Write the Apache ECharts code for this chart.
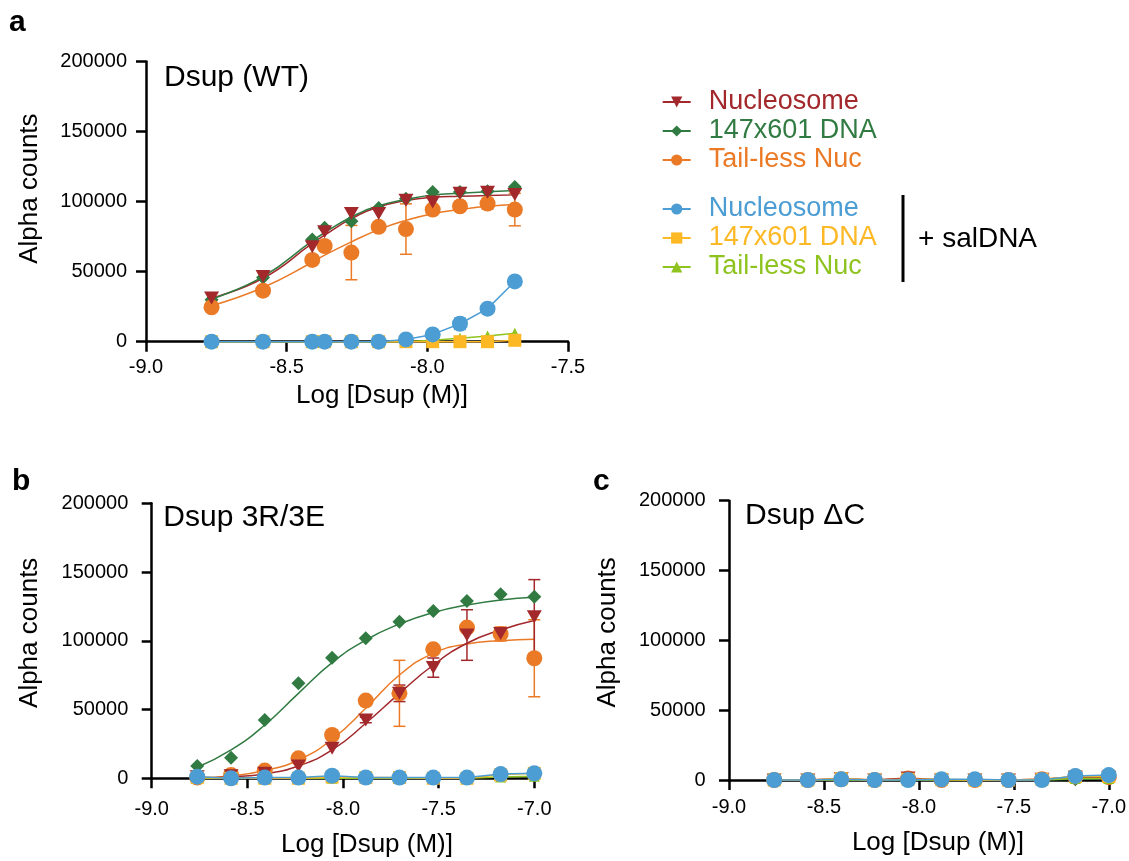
<!DOCTYPE html>
<html>
<head>
<meta charset="utf-8">
<script src="https://cdn.jsdelivr.net/npm/echarts@6/dist/echarts.min.js"></script>
<style>
html,body{margin:0;padding:0;background:#fff;}
#chart{width:1129px;height:861px;}
</style>
</head>
<body>
<div id="chart"></div>
<script>
// ---------- DATA ----------
// x positions: Log [Dsup (M)]
const xA = [-8.767, -8.584, -8.409, -8.365, -8.270, -8.173, -8.076, -7.981, -7.884, -7.786, -7.689];
const xB = [-8.762, -8.585, -8.409, -8.233, -8.057, -7.881, -7.705, -7.528, -7.352, -7.176, -7.000];
const xC = [-8.762, -8.585, -8.409, -8.233, -8.057, -7.881, -7.705, -7.528, -7.352, -7.176, -7.000];

// Panel a: Dsup (WT)
const nucA   = [31200, 46600, 67800, 78500, 91500, 91500, 101000, 99800, 106000, 106600, 105000];
const dnaA   = [30000, 45800, 73000, 81300, 86000, 95500, 102100, 106800, 106800, 107300, 110400];
const tailA  = [24600, 36400, 58400, 68300, 63600, 82000, 80400, 94300, 96700, 98600, 94300];
const tailAErr = [0, 0, 0, 0, 19400, 0, 18000, 0, 0, 3800, 11600];
const nucFitA  = [31200, 45300, 70100, 76000, 87800, 96100, 100800, 103100, 103800, 104300, 104800];
const dnaFitA  = [30500, 46500, 72000, 77800, 89000, 97000, 101500, 104800, 106000, 107000, 107900];
const tailFitA = [25700, 38700, 56700, 61800, 71300, 80000, 86600, 91400, 94300, 96700, 98000];
const bluA   = [0, 0, 0, 0, 0, 0, 1600, 5200, 12800, 23600, 43000];
const bluAErr = [0, 0, 0, 0, 0, 0, 0, 0, 4000, 0, 0];
const yelA   = [0, 0, 0, 0, 0, 0, 0, 0, 0, 0, 1000];
const limA   = [0, 0, 0, 0, 0, 0, 0, 1000, 2500, 4000, 6000];

// Panel b: Dsup 3R/3E
const dnaB   = [9000, 15000, 42400, 69100, 87700, 101800, 113900, 121700, 129000, 133800, 132100];
const nucB   = [1200, 1900, 3600, 9000, 21800, 42400, 61800, 80500, 104200, 105400, 117500];
const nucBErr = [0, 0, 0, 0, 0, 2000, 6000, 7000, 18400, 3000, 27000];
const tailB  = [500, 2400, 5600, 14500, 31500, 56500, 61800, 93800, 109600, 105000, 87300];
const tailBErr = [0, 0, 0, 0, 0, 0, 24000, 0, 0, 5000, 28000];
const dnaFitB  = [8000, 20600, 38800, 61800, 84100, 100600, 112200, 120500, 126000, 129700, 131600];
const nucFitB  = [200, 1000, 3200, 9000, 20600, 40000, 61800, 82400, 98200, 107900, 114700];
const tailFitB = [500, 1700, 5600, 13300, 28400, 50900, 75100, 90900, 97700, 100100, 101100];
const bluB   = [1200, 0, 500, 500, 1900, 500, 500, 500, 500, 3100, 3600];
const yelB   = [500, 0, 0, 0, 1000, 500, 500, 0, 0, 2500, 3600];
const limB   = [0, 0, 0, 0, 0, 0, 0, 0, 0, 1000, 1500];

// Panel c: Dsup ΔC
const nucC   = [0, 0, 1000, 0, 1500, 0, 0, 0, 500, 2000, 2000];
const dnaC   = [0, 0, 0, 0, 0, 0, 0, 0, 0, 500, 1000];
const tailC  = [0, 0, 500, 0, 1000, 0, 0, 0, 500, 2500, 2000];
const bluC   = [0, 0, 500, 0, 0, 500, 500, 0, 0, 2900, 3500];
const yelC   = [0, 0, 1000, 0, 500, 500, 0, 0, 500, 2500, 2500];
const limC   = [0, 0, 0, 0, 0, 0, 0, 0, 0, 1000, 1000];

const yTicks = [0, 50000, 100000, 150000, 200000];
const xTickStep = 0.5;

// ---------- STYLE ----------
const FONT = 'Liberation Sans, Arial, Helvetica, sans-serif';
const C = {
  nuc: '#a2282c', dna: '#317b42', tail: '#ea7a26',
  blu: '#4b9dd3', yel: '#fdb825', lim: '#8fc31f'
};
const TRI_DOWN = 'path://M0,0L10,0L5,9Z';
const N = {
  nuc: 'Nucleosome', dna: '147x601 DNA', tail: 'Tail-less Nuc',
  blu: 'Nucleosome + salDNA', yel: '147x601 DNA + salDNA', lim: 'Tail-less Nuc + salDNA'
};
const SYM = {
  nuc: {symbol: TRI_DOWN, symbolSize: [15, 13]},
  dna: {symbol: 'diamond', symbolSize: 14},
  tail: {symbol: 'circle', symbolSize: 16},
  blu: {symbol: 'circle', symbolSize: 16},
  yel: {symbol: 'rect', symbolSize: 13},
  lim: {symbol: 'triangle', symbolSize: 11}
};

const zip = (xs, ys) => xs.map((x, i) => [x, ys[i]]);
const zip3 = (xs, ys, es) => xs.map((x, i) => [x, ys[i], es[i]]);

function fitSeries(key, g, xs, ys) {
  return Object.assign({
    type: 'line', name: N[key], xAxisIndex: g, yAxisIndex: g,
    data: zip(xs, ys), smooth: 0.5, showSymbol: false,
    lineStyle: {color: C[key], width: 1.5}, itemStyle: {color: C[key]},
    z: 2
  }, SYM[key]);
}
function pointSeries(key, g, xs, ys) {
  return Object.assign({
    type: 'scatter', name: N[key], xAxisIndex: g, yAxisIndex: g,
    data: zip(xs, ys), itemStyle: {color: C[key], opacity: 1}, z: 3
  }, SYM[key]);
}
function lineSeries(key, g, xs, ys) {
  return Object.assign({
    type: 'line', name: N[key], xAxisIndex: g, yAxisIndex: g,
    data: zip(xs, ys), showSymbol: true, clip: false,
    lineStyle: {color: C[key], width: 1.5}, itemStyle: {color: C[key], opacity: 1}, z: 3
  }, SYM[key]);
}
function errSeries(key, g, xs, ys, es) {
  return {
    type: 'custom', name: 'err-' + key + '-' + g, xAxisIndex: g, yAxisIndex: g,
    data: zip3(xs, ys, es), z: 3,
    renderItem: function (params, api) {
      const x = api.value(0), y = api.value(1), e = api.value(2);
      if (!e) return null;
      const top = api.coord([x, y + e]);
      const bot = api.coord([x, y - e]);
      const cw = 6;
      const st = {stroke: C[key], lineWidth: 1.5};
      return {
        type: 'group',
        children: [
          {type: 'line', shape: {x1: top[0], y1: top[1], x2: bot[0], y2: bot[1]}, style: st},
          {type: 'line', shape: {x1: top[0] - cw, y1: top[1], x2: top[0] + cw, y2: top[1]}, style: st},
          {type: 'line', shape: {x1: bot[0] - cw, y1: bot[1], x2: bot[0] + cw, y2: bot[1]}, style: st}
        ]
      };
    }
  };
}

const axisLineStyle = {color: '#000', width: 2.5};
function xAxisCfg(g, max, labelMargin, nameGap, shift) {
  return {
    gridIndex: g, type: 'value', min: -9, max: max, interval: xTickStep,
    axisLine: {show: true, onZero: false, lineStyle: axisLineStyle},
    axisTick: {show: true, length: 10, lineStyle: axisLineStyle},
    axisLabel: {fontSize: 20, color: '#000', fontFamily: FONT, margin: labelMargin,
      showMinLabel: true, showMaxLabel: true, formatter: v => v.toFixed(1)},
    splitLine: {show: false},
    name: 'Log [Dsup (M)]', nameLocation: 'middle', nameGap: nameGap,
    nameTextStyle: {fontSize: 26, color: '#000', fontFamily: FONT, padding: [0, 0, 0, shift * 2]}
  };
}
function yAxisCfg(g, labelMargin, nameGap, shift) {
  return {
    gridIndex: g, type: 'value', min: yTicks[0], max: yTicks[yTicks.length - 1],
    interval: yTicks[1] - yTicks[0],
    axisLine: {show: true, onZero: false, lineStyle: axisLineStyle},
    axisTick: {show: true, length: 10, lineStyle: axisLineStyle},
    axisLabel: {fontSize: 20, color: '#000', fontFamily: FONT, margin: labelMargin,
      formatter: v => String(Math.round(v))},
    splitLine: {show: false},
    name: 'Alpha counts', nameLocation: 'middle', nameGap: nameGap,
    nameTextStyle: {fontSize: 26, color: '#000', fontFamily: FONT, padding: [0, 0, 0, shift * 2]}
  };
}

const series = [
  // panel a
  fitSeries('nuc', 0, xA, nucFitA),
  fitSeries('dna', 0, xA, dnaFitA),
  fitSeries('tail', 0, xA, tailFitA),
  errSeries('tail', 0, xA, tailA, tailAErr),
  pointSeries('dna', 0, xA, dnaA),
  pointSeries('tail', 0, xA, tailA),
  pointSeries('nuc', 0, xA, nucA),
  lineSeries('lim', 0, xA, limA),
  lineSeries('yel', 0, xA, yelA),
  lineSeries('blu', 0, xA, bluA),
  errSeries('blu', 0, xA, bluA, bluAErr),
  // panel b
  fitSeries('dna', 1, xB, dnaFitB),
  fitSeries('tail', 1, xB, tailFitB),
  fitSeries('nuc', 1, xB, nucFitB),
  errSeries('tail', 1, xB, tailB, tailBErr),
  errSeries('nuc', 1, xB, nucB, nucBErr),
  pointSeries('dna', 1, xB, dnaB),
  pointSeries('tail', 1, xB, tailB),
  pointSeries('nuc', 1, xB, nucB),
  lineSeries('lim', 1, xB, limB),
  lineSeries('yel', 1, xB, yelB),
  lineSeries('blu', 1, xB, bluB),
  // panel c
  lineSeries('dna', 2, xC, dnaC),
  lineSeries('tail', 2, xC, tailC),
  lineSeries('nuc', 2, xC, nucC),
  lineSeries('lim', 2, xC, limC),
  lineSeries('yel', 2, xC, yelC),
  lineSeries('blu', 2, xC, bluC)
];

const legendCommon = {
  orient: 'vertical', left: 661.7, padding: 0, itemGap: 2,
  itemWidth: 28, itemHeight: 14, selectedMode: false,
  textStyle: {fontSize: 27, fontFamily: FONT, padding: [0, 0, 0, 13], lineHeight: 27}
};

const option = {
  animation: false,
  backgroundColor: '#fff',
  textStyle: {fontFamily: FONT},
  grid: [
    {left: 146, top: 61.5, width: 422, height: 280.2},
    {left: 151.7, top: 503.3, width: 382.6, height: 275},
    {left: 729, top: 500.7, width: 392, height: 279.3}
  ],
  xAxis: [
    xAxisCfg(0, -7.5, 16, 41, 25),
    xAxisCfg(1, -7.0, 21, 54, 24),
    xAxisCfg(2, -7.0, 17.5, 50, 19)
  ],
  yAxis: [
    yAxisCfg(0, 19, 103, 13),
    yAxisCfg(1, 23.4, 108.7, 8),
    yAxisCfg(2, 23.3, 108, 8)
  ],
  legend: [
    Object.assign({}, legendCommon, {
      top: 88.5,
      data: [
        {name: N.nuc, textStyle: {color: C.nuc}},
        {name: N.dna, textStyle: {color: C.dna}},
        {name: N.tail, textStyle: {color: C.tail}}
      ]
    }),
    Object.assign({}, legendCommon, {
      top: 195.5,
      formatter: n => n.replace(' + salDNA', ''),
      data: [
        {name: N.blu, textStyle: {color: C.blu}},
        {name: N.yel, textStyle: {color: C.yel}},
        {name: N.lim, textStyle: {color: C.lim}}
      ]
    })
  ],
  graphic: [
    {type: 'text', left: 9, top: 8, style: {text: 'a', font: 'bold 30px ' + FONT, fill: '#000'}},
    {type: 'text', left: 12, top: 467, style: {text: 'b', font: 'bold 30px ' + FONT, fill: '#000'}},
    {type: 'text', left: 593, top: 467, style: {text: 'c', font: 'bold 30px ' + FONT, fill: '#000'}},
    {type: 'text', x: 164, y: 77.3, style: {text: 'Dsup (WT)', font: '30px ' + FONT, fill: '#000', verticalAlign: 'middle'}},
    {type: 'text', x: 163.3, y: 518, style: {text: 'Dsup 3R/3E', font: '30px ' + FONT, fill: '#000', verticalAlign: 'middle'}},
    {type: 'text', x: 745, y: 516, style: {text: 'Dsup \u0394C', font: '30px ' + FONT, fill: '#000', verticalAlign: 'middle'}},
    {type: 'line', shape: {x1: 903, y1: 195, x2: 903, y2: 282}, style: {stroke: '#000', lineWidth: 3}},
    {type: 'text', x: 918, y: 239, style: {text: '+ salDNA', font: '28px ' + FONT, fill: '#000', verticalAlign: 'middle'}}
  ],
  series: series
};

const chart = echarts.init(document.getElementById('chart'), null, {renderer: 'canvas'});
chart.setOption(option);
</script>
</body>
</html>
